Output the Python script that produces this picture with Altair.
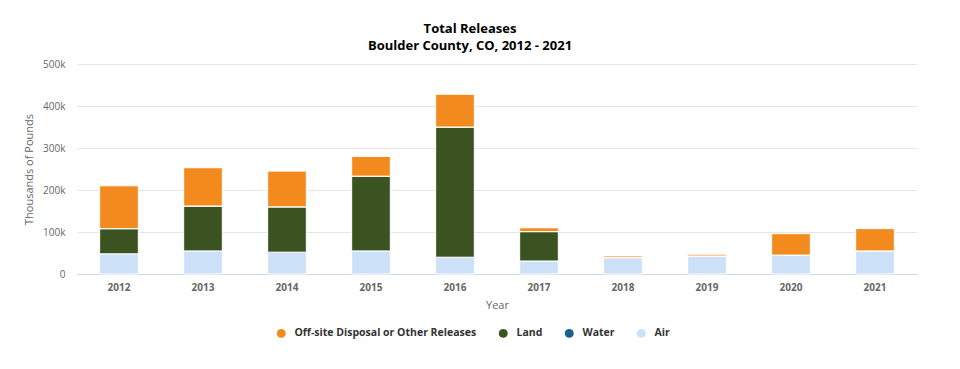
import altair as alt
import pandas as pd

years = ["2012", "2013", "2014", "2015", "2016", "2017", "2018", "2019", "2020", "2021"]
air = [48, 55, 52, 55, 40, 31, 39, 43, 45, 55]
land = [60, 107, 108, 178, 310, 70, 0, 0, 0, 0]
water = [0, 0, 0, 0, 0, 0, 0, 0, 0, 0]
offsite = [102, 91, 85, 47, 78, 9, 4, 4, 51, 53]

series_names = ["Off-site Disposal or Other Releases", "Land", "Water", "Air"]
series_colors = ["#f28a1e", "#3a5320", "#1b5f8e", "#cce0f8"]
stack_rank = {"Air": 0, "Land": 1, "Water": 2, "Off-site Disposal or Other Releases": 3}

rows = []
for i, y in enumerate(years):
    for name, vals in [("Air", air), ("Land", land), ("Water", water),
                       ("Off-site Disposal or Other Releases", offsite)]:
        rows.append({"Year": y, "Type": name, "Value": vals[i] * 1000, "rank": stack_rank[name]})
df = pd.DataFrame(rows)

FONT = "Open Sans"

chart = alt.Chart(df).mark_bar(stroke="white", strokeWidth=1).encode(
    x=alt.X("Year:N", sort=years,
            scale=alt.Scale(paddingInner=0.54, paddingOuter=0.27),
            axis=alt.Axis(title="Year", labelAngle=0, labelFont=FONT, labelFontWeight="bold",
                          labelFontSize=10, labelColor="#666666", ticks=False,
                          domainColor="#ccd6eb", labelPadding=8,
                          titleFont=FONT, titleFontWeight="normal", titleFontSize=11,
                          titleColor="#666666", titlePadding=7)),
    y=alt.Y("sum(Value):Q",
            scale=alt.Scale(domain=[0, 500000]),
            axis=alt.Axis(title="Thousands of Pounds", values=[0, 100000, 200000, 300000, 400000, 500000],
                          labelExpr="datum.value == 0 ? '0' : (datum.value/1000) + 'k'",
                          labelFont=FONT, labelFontSize=10, labelColor="#666666",
                          ticks=False, domain=False, gridColor="#e6e6e6", labelPadding=12,
                          titleFont=FONT, titleFontWeight="normal", titleFontSize=11,
                          titleColor="#666666", titlePadding=8)),
    color=alt.Color("Type:N",
                    scale=alt.Scale(domain=series_names, range=series_colors),
                    legend=alt.Legend(title=None, orient="none", direction="horizontal",
                                      legendX=199, legendY=264,
                                      symbolType="circle", symbolSize=80, symbolStrokeWidth=0,
                                      symbolOpacity=1, labelLimit=0,
                                      labelFont=FONT, labelFontSize=10.5, labelFontWeight="bold",
                                      labelColor="#333333", columnPadding=21, labelOffset=8)),
    order=alt.Order("rank:Q", sort="ascending"),
).properties(
    width=840,
    height=210,
    padding={"left": 69, "top": 56, "right": 30, "bottom": 80},
    autosize=alt.AutoSizeParams(type="none"),
    title=alt.TitleParams(text=["Total Releases", "Boulder County, CO, 2012 - 2021"],
                          font=FONT, fontSize=13, fontWeight="bold", color="#000000",
                          anchor="middle", dx=-27, offset=6, lineHeight=17),
).configure_view(stroke=None)

chart.save("out.html", embed_options={"renderer": "svg", "actions": False})
